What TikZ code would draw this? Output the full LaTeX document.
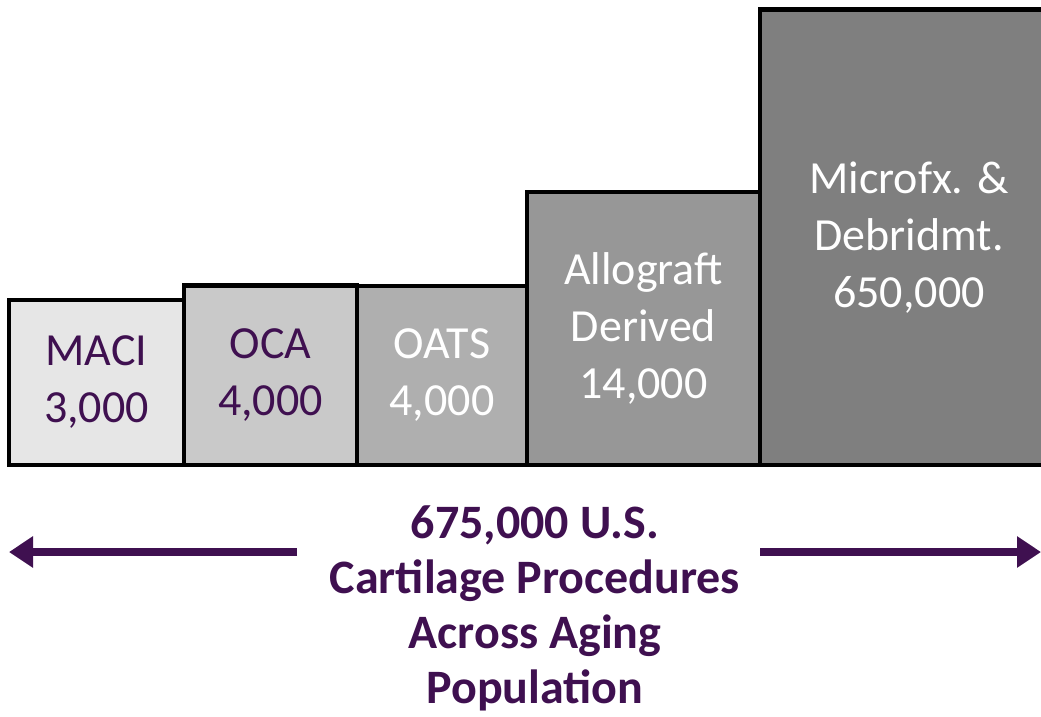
\documentclass[tikz,border=0pt]{standalone}
\usepackage{fontspec}
\setmainfont{Carlito}
\usetikzlibrary{arrows.meta}
\definecolor{pur}{HTML}{3F1050}
\definecolor{g1}{HTML}{E6E6E6}
\definecolor{g2}{HTML}{C9C9C9}
\definecolor{g3}{HTML}{AFAFAF}
\definecolor{g4}{HTML}{979797}
\definecolor{g5}{HTML}{7F7F7F}
\begin{document}
\begin{tikzpicture}[x=1pt,y=-1pt,
  box/.style={draw=black,line width=4.5pt,inner sep=0pt,align=center,font=\fontsize{46}{57}\selectfont},
  bigarrow/.style={draw=pur,line width=8pt,-{Triangle[length=24pt,width=30pt]}}]
\useasboundingbox (0,0) rectangle (1041,716);
\clip (0,0) rectangle (1041,716);
\node[box,fill=g1,text=pur,minimum width=175pt,minimum height=165pt] (maci) at (96.5,382.5) {\raisebox{-6pt}{\parbox{170pt}{\centering MACI\\3,000}}};
\node[box,fill=g2,text=pur,minimum width=173pt,minimum height=179.5pt] (oca) at (270.5,375.25) {\raisebox{-4pt}{\parbox{170pt}{\centering OCA\\4,000}}};
\node[box,fill=g3,text=white,minimum width=170pt,minimum height=179pt] (oats) at (442,375.5) {\raisebox{-4pt}{\parbox{165pt}{\centering OATS\\4,000}}};
\node[box,fill=g4,text=white,minimum width=233pt,minimum height=273pt] (allo) at (643.5,328.5) {\raisebox{-4pt}{\parbox{228pt}{\centering Allograft\\Derived\\14,000}}};
\node[box,fill=g5,text=white,minimum width=298pt,minimum height=455.5pt] (micro) at (909,237.25) {\raisebox{-3pt}{\parbox{290pt}{\centering Microfx. \&\\Debridmt.\\650,000}}};
\node[font=\bfseries\fontsize{48}{55}\selectfont,text=pur,align=center,anchor=base,inner sep=0pt] (title) at (535,703) {675,000 U.S.\\Cartilage Procedures\\Across Aging\\Population};
\coordinate (ls) at (297,552);
\coordinate (le) at (9,552);
\coordinate (rs) at (760,552);
\coordinate (re) at (1041,552);
\draw[bigarrow] (ls) -- (le);
\draw[bigarrow] (rs) -- (re);
\end{tikzpicture}
\end{document}
